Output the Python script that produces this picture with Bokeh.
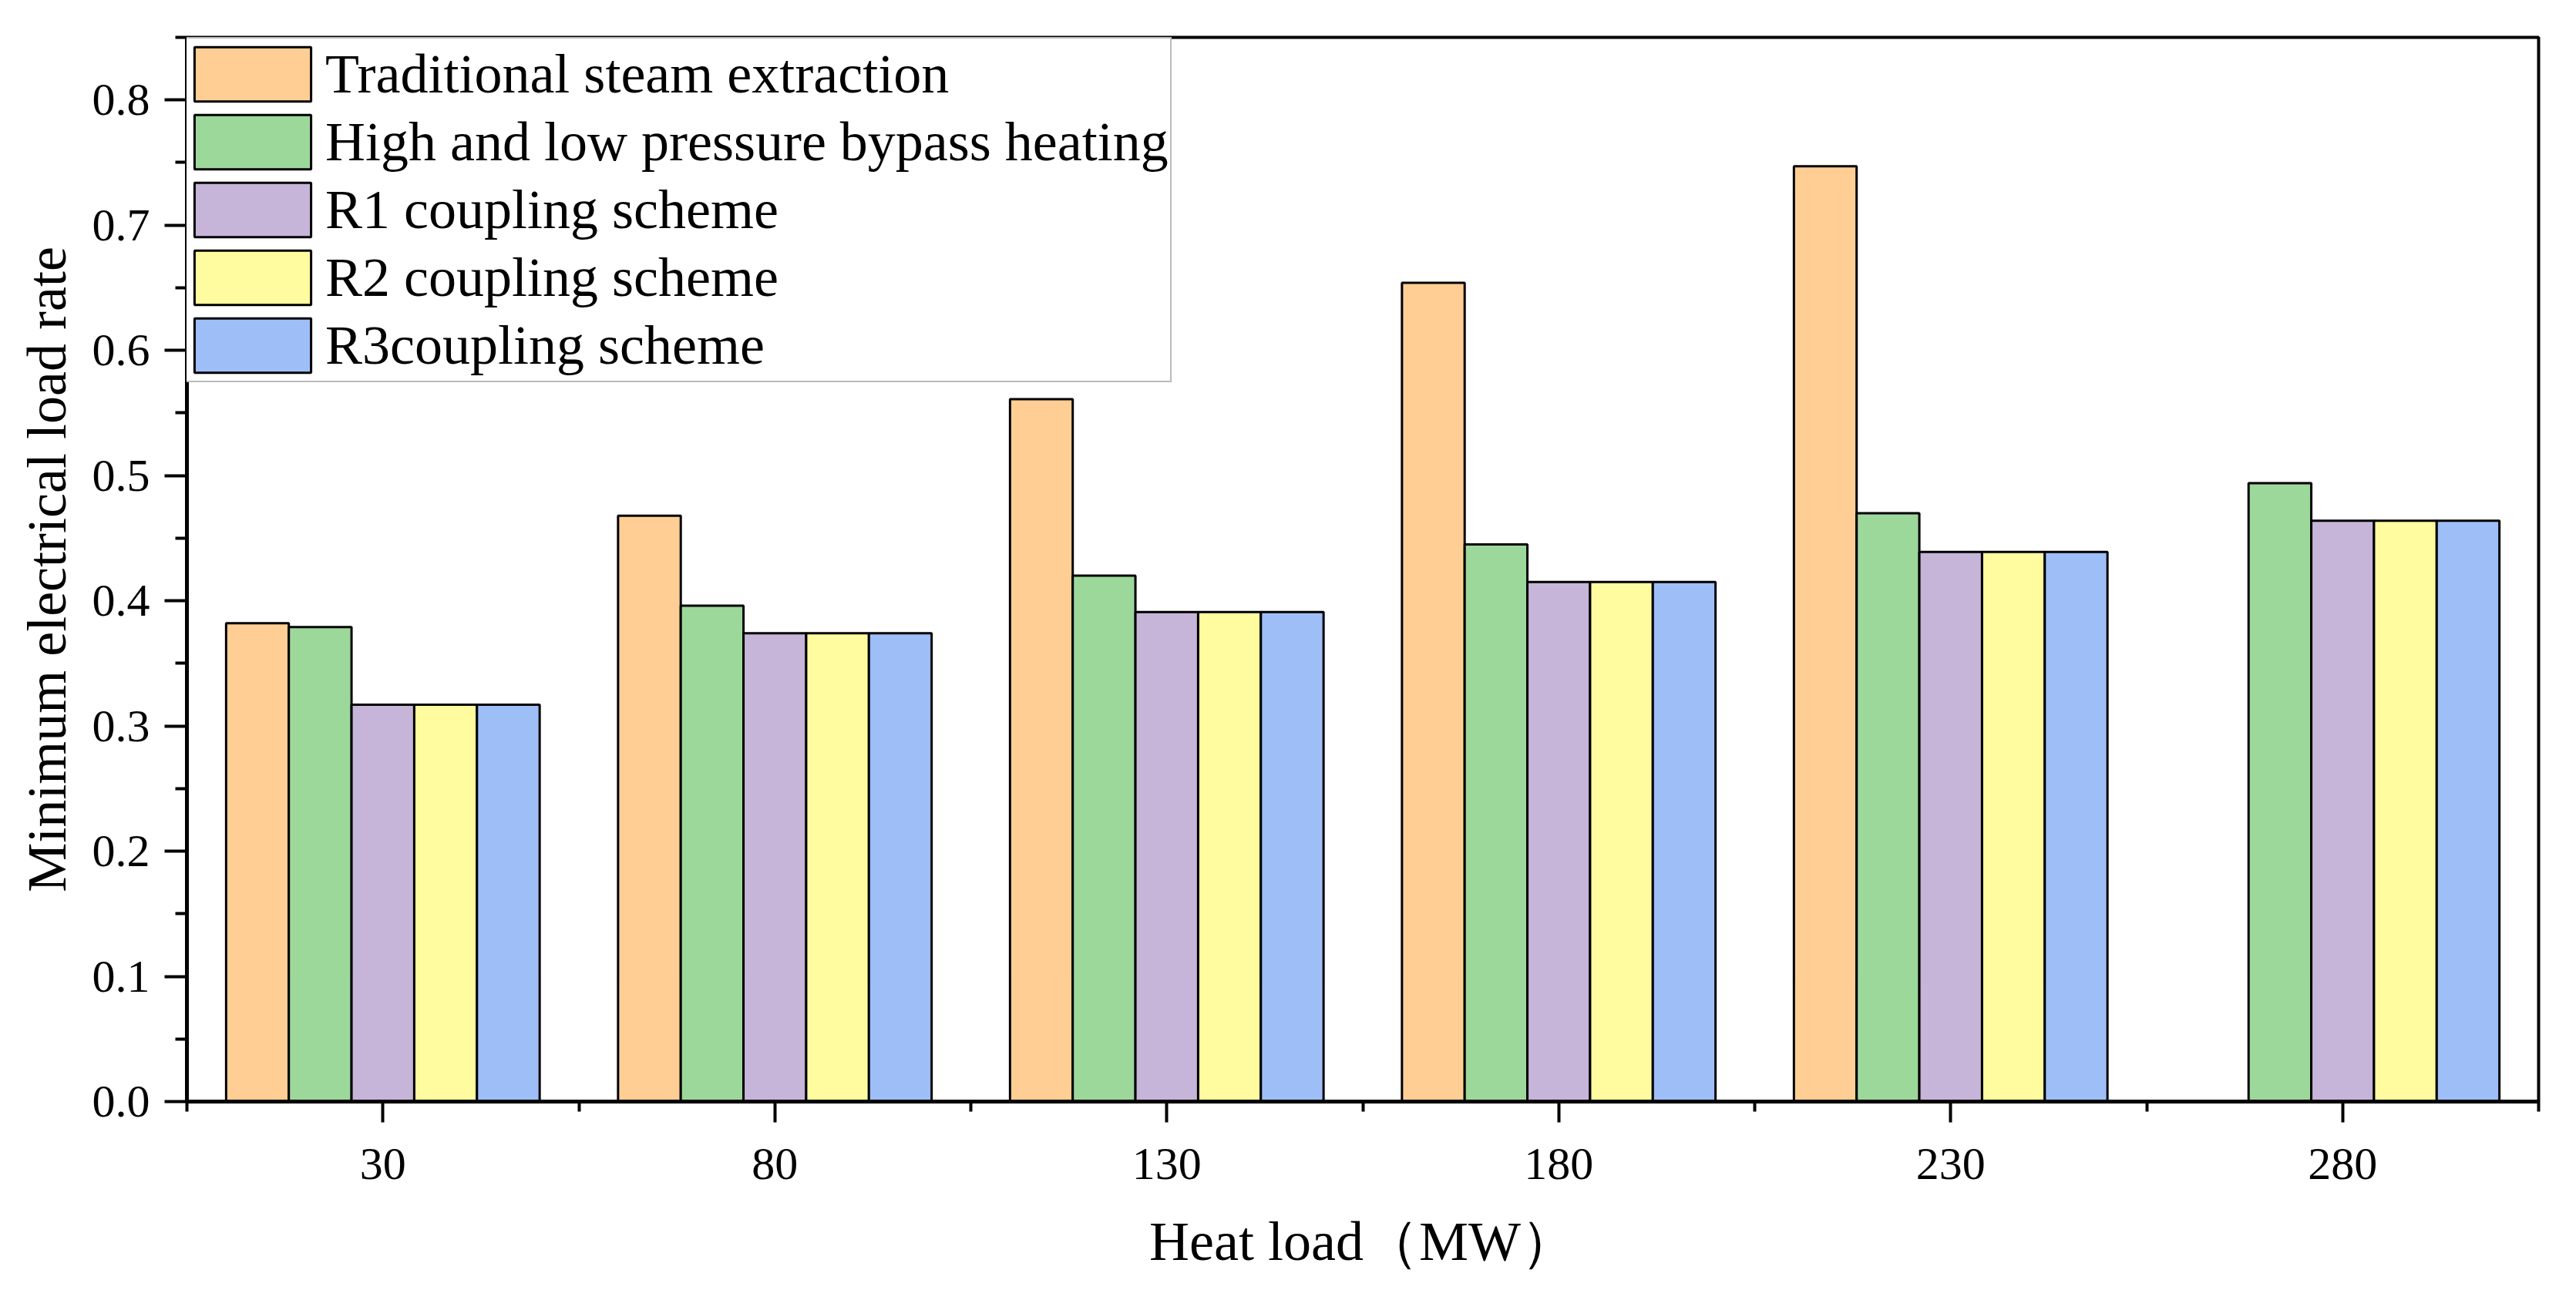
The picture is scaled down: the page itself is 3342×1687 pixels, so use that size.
from bokeh.plotting import figure
from bokeh.models import Range1d, FixedTicker, PrintfTickFormatter, Legend, LegendItem, ColumnDataSource
from bokeh.embed import file_html
from bokeh.resources import INLINE

# ---- data ----
heat_loads = [30, 80, 130, 180, 230, 280]
series_names = [
    "Traditional steam extraction",
    "High and low pressure bypass heating",
    "R1 coupling scheme",
    "R2 coupling scheme",
    "R3coupling scheme",
]
traditional = [0.382, 0.468, 0.561, 0.654, 0.747, None]
hl_bypass = [0.379, 0.396, 0.420, 0.445, 0.470, 0.494]
r1_scheme = [0.317, 0.374, 0.391, 0.415, 0.439, 0.464]
r2_scheme = [0.317, 0.374, 0.391, 0.415, 0.439, 0.464]
r3_scheme = [0.317, 0.374, 0.391, 0.415, 0.439, 0.464]
colors = ["#FFCE94", "#9DD89B", "#C6B5D8", "#FFFCA0", "#9EBEF7"]

x_major_ticks = [30, 80, 130, 180, 230, 280]
x_minor_ticks = [5, 55, 105, 155, 205, 255, 305]
y_major_ticks = [0.0, 0.1, 0.2, 0.3, 0.4, 0.5, 0.6, 0.7, 0.8]
y_minor_ticks = [0.05, 0.15, 0.25, 0.35, 0.45, 0.55, 0.65, 0.75, 0.85]

FONT = "Liberation Serif"

p = figure(
    width=3326, height=1671,
    output_backend="svg", toolbar_location=None,
    x_range=Range1d(5, 305), y_range=Range1d(0, 0.85),
    min_border_left=242, min_border_top=48, min_border_right=33, min_border_bottom=242,
    background_fill_color="white", border_fill_color="white",
)
p.grid.visible = False
p.outline_line_color = "black"
p.outline_line_width = 4

all_series = [traditional, hl_bypass, r1_scheme, r2_scheme, r3_scheme]
bar_w = 8
n = len(all_series)
renderers = []
for i, (vals, col) in enumerate(zip(all_series, colors)):
    off = (i - (n - 1) / 2) * bar_w
    xs = [h + off for h, v in zip(heat_loads, vals) if v is not None]
    ys = [v for v in vals if v is not None]
    src = ColumnDataSource(dict(x=xs, top=ys))
    r = p.vbar(x="x", top="top", bottom=0, width=bar_w, source=src,
               fill_color=col, line_color="black", line_width=3)
    renderers.append(r)

# axes
for ax in (p.xaxis[0], p.yaxis[0]):
    ax.axis_line_width = 5
    ax.axis_line_color = "black"
    ax.major_tick_line_width = 4
    ax.minor_tick_line_width = 4
    ax.major_tick_in = 0
    ax.minor_tick_in = 0
    ax.major_label_text_font = FONT
    ax.major_label_text_font_size = "60px"
    ax.major_label_text_color = "black"
    ax.axis_label_text_font = FONT
    ax.axis_label_text_font_size = "72px"
    ax.axis_label_text_font_style = "normal"
    ax.axis_label_text_color = "black"

p.xaxis.ticker = FixedTicker(ticks=x_major_ticks, minor_ticks=x_minor_ticks)
p.xaxis.major_tick_out = 27
p.xaxis.minor_tick_out = 13
p.xaxis.major_label_standoff = 34
p.xaxis.axis_label = "Heat load（MW）"
p.xaxis.axis_label_standoff = 38

p.yaxis.ticker = FixedTicker(ticks=y_major_ticks, minor_ticks=y_minor_ticks)
p.yaxis.formatter = PrintfTickFormatter(format="%.1f")
p.yaxis.major_tick_out = 29
p.yaxis.minor_tick_out = 15
p.yaxis.major_label_standoff = 19
p.yaxis.axis_label = "Minimum electrical load rate"
p.yaxis.axis_label_standoff = 16

legend = Legend(
    items=[LegendItem(label=name, renderers=[r]) for name, r in zip(series_names, renderers)],
    location=(-13, 933),
    margin=0,
    padding=2,
    spacing=0,
    glyph_width=189,
    glyph_height=88,
    label_standoff=0,
    label_text_font=FONT,
    label_text_font_size="72px",
    label_text_color="black",
    border_line_color="#777777",
    border_line_width=2,
    background_fill_color="white",
    background_fill_alpha=1.0,
)
p.add_layout(legend)

open("out.html", "w").write(file_html(p, INLINE))
